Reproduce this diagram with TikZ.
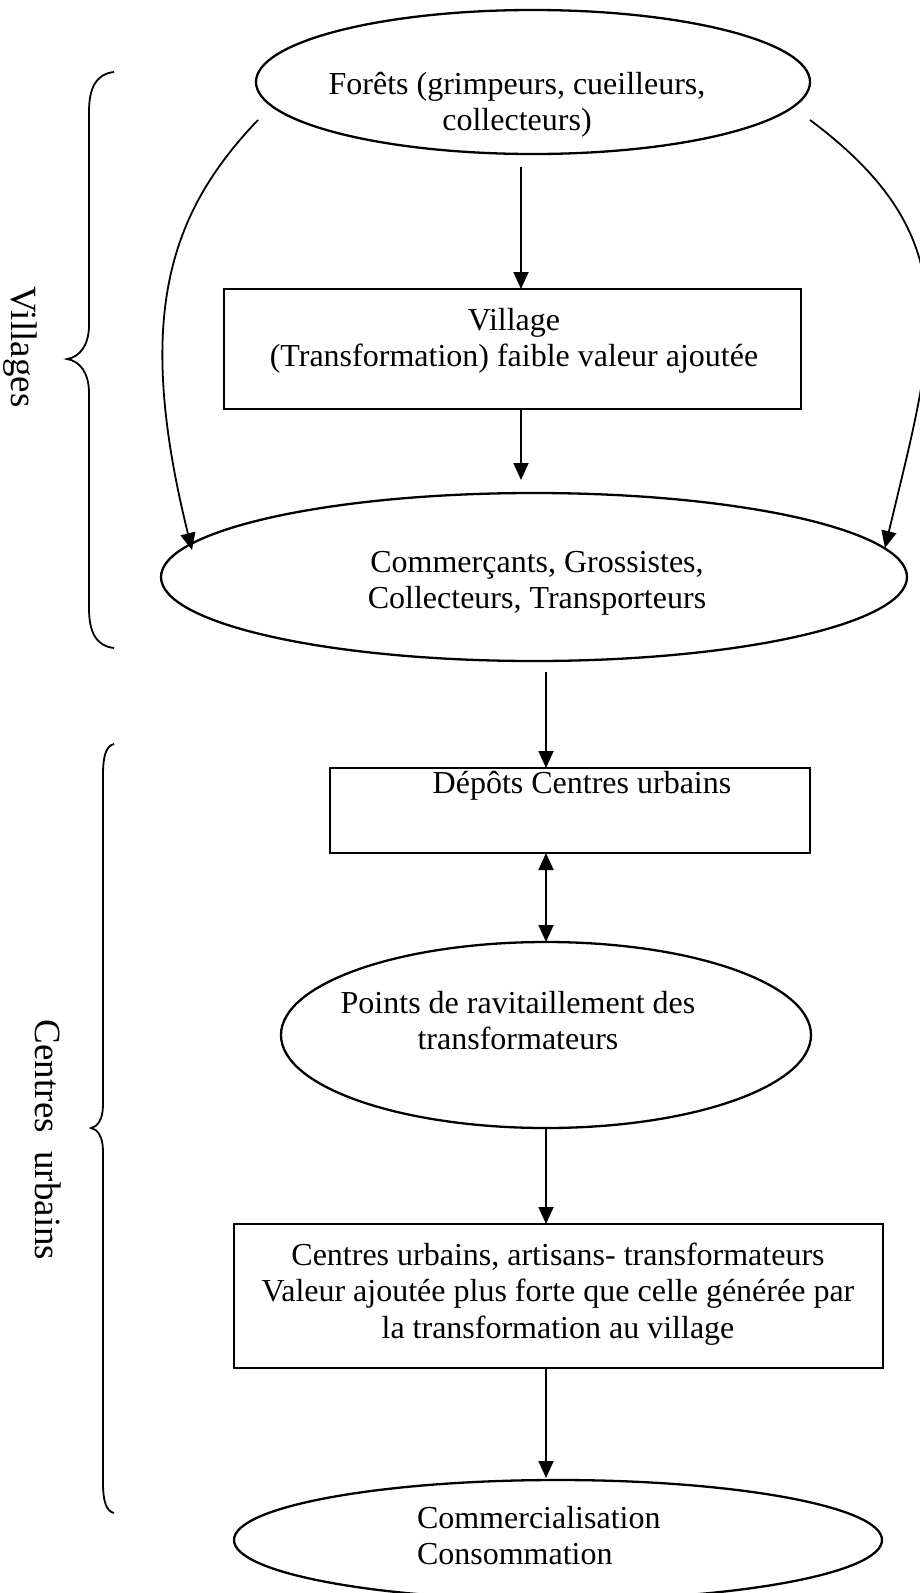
\documentclass[tikz,border=0pt]{standalone}
\usepackage{fontspec}
\setmainfont{Liberation Serif}
\usetikzlibrary{arrows.meta,shapes.geometric,calc}
\begin{document}
\begin{tikzpicture}[x=1pt,y=-1pt,
  every node/.style={font=\fontsize{32pt}{36.5pt}\selectfont, inner sep=0pt, outer sep=0pt},
  shapeline/.style={draw=black, line width=2.3pt},
  ellnode/.style={shapeline, ellipse},
  boxnode/.style={shapeline, rectangle},
  txt/.style={align=center, anchor=base},
  tip/.style={Triangle[length=17pt,width=15pt]},
  arr/.style={line width=1.8pt, -{Triangle[length=17pt,width=15pt]}},
  darr/.style={line width=1.8pt, {Triangle[length=17pt,width=15pt]}-{Triangle[length=17pt,width=15pt]}},
  bracel/.style={line width=1.8pt},
  side/.style={font=\fontsize{37pt}{40pt}\selectfont, rotate=-90, anchor=base}
]
\useasboundingbox (0,0) rectangle (920,1593);

% shapes (text nodes are anchored at the baseline of their last line)
\node[ellnode, minimum width=554pt, minimum height=144pt] (e1) at (533,82) {};
\node[txt] (t1) at (517,130.5) {Forêts (grimpeurs, cueilleurs,\\collecteurs)};

\node[boxnode, minimum width=577pt, minimum height=120pt] (b1) at (512.5,349) {};
\node[txt] (t2) at (514,366.5) {Village\\(Transformation) faible valeur ajoutée};

\node[ellnode, minimum width=746pt, minimum height=168pt] (e2) at (534,577) {};
\node[txt] (t3) at (537,608.5) {Commerçants, Grossistes,\\Collecteurs, Transporteurs};

\node[boxnode, minimum width=480pt, minimum height=85pt] (b2) at (570,810.5) {};
\node[txt] (t4) at (582,793) {Dépôts Centres urbains};

\node[ellnode, minimum width=530pt, minimum height=186pt] (e3) at (546,1035) {};
\node[txt] (t5) at (518,1049.5) {Points de ravitaillement des\\transformateurs};

\node[boxnode, minimum width=649pt, minimum height=144pt] (b3) at (558.5,1296) {};
\node[txt] (t6) at (558,1338) {Centres urbains, artisans- transformateurs\\Valeur ajoutée plus forte que celle générée par\\la transformation au village};

\node[ellnode, minimum width=648pt, minimum height=120pt] (e4) at (558,1540) {};
\node[align=left, anchor=base west] (t7) at (417,1564.5) {Commercialisation\\Consommation};

% side labels
\node[side] (lv) at (11,347) {Villages};
\node[side] (lc) at (35,1140) {Centres\ \ urbains};

% straight connectors
\coordinate (a1s) at (521,167);
\draw[arr] (a1s) -- (a1s |- b1.north);
\coordinate (a2e) at (521,480);
\draw[arr] (a2e |- b1.south) -- (a2e);
\coordinate (a3s) at (546,672);
\draw[arr] (a3s) -- (a3s |- b2.north);
\draw[darr] (a3s |- b2.south) -- (e3.north);
\draw[arr] (e3.south) -- (e3.south |- b3.north);
\coordinate (a6e) at (546,1478);
\draw[arr] (e3.south |- b3.south) -- (a6e);

% curved connectors
\coordinate (cl0) at (258,120);
\coordinate (cl1) at (192,550);
\draw[arr] (cl0) .. controls (167,215) and (135,320) .. (cl1);
\coordinate (cr0) at (810,120);
\coordinate (cr1) at (885,548);
\draw[arr] (cr0) .. controls (971,240) and (934,341) .. (cr1);

% braces
\draw[bracel] (114,72) .. controls (96,74) and (89,88) .. (89,112) -- (89,325)
  .. controls (89,345) and (80,357) .. (67,359)
  .. controls (80,361) and (89,373) .. (89,393) -- (89,608)
  .. controls (89,632) and (96,646) .. (114,648);
\draw[bracel] (114,744) .. controls (106,746) and (103,756) .. (103,775) -- (103,1105)
  .. controls (103,1120) and (97,1127) .. (91,1128)
  .. controls (97,1129) and (103,1136) .. (103,1151) -- (103,1482)
  .. controls (103,1501) and (106,1511) .. (114,1513);
\end{tikzpicture}
\end{document}
